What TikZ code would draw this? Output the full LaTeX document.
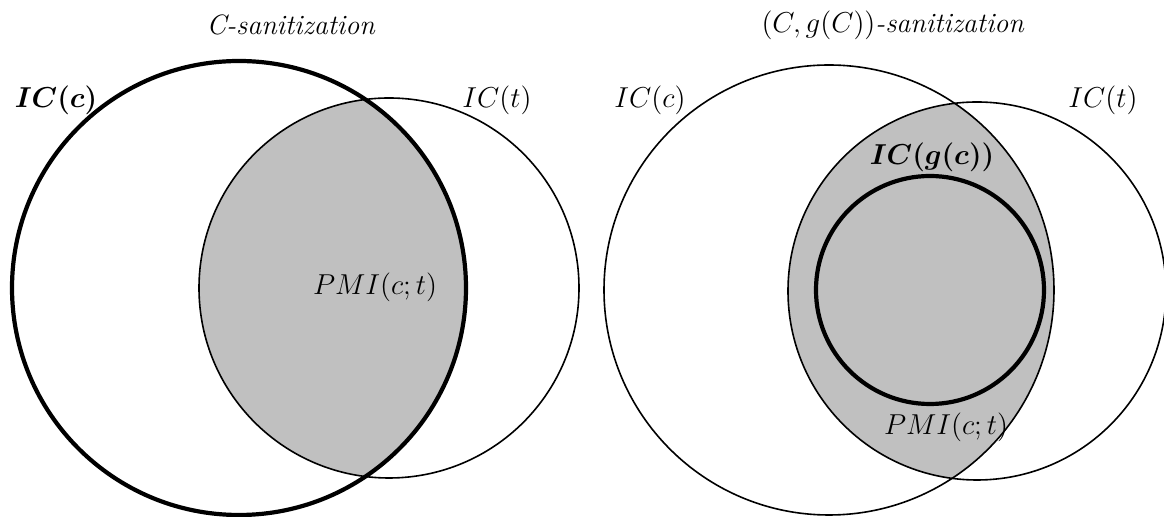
\documentclass[tikz,border=0pt]{standalone}
\usepackage{bm}
\definecolor{vgray}{RGB}{192,192,192}
\tikzset{
  thinc/.style={draw=black, line width=0.8pt},
  thickc/.style={draw=black, line width=2.1pt},
  lbl/.style={inner sep=0pt, font=\fontsize{14}{16}\selectfont}
}
\begin{document}
\begin{tikzpicture}[x=0.5pt,y=-0.5pt]
\useasboundingbox (0,0) rectangle (1164,517);
% ---- left panel ----
\coordinate (Lc) at (239,288);
\coordinate (Lt) at (389,288);
\begin{scope}
  \clip (Lc) circle [radius=113.5pt];
  \fill[fill=vgray] (Lt) circle [radius=95pt];
\end{scope}
\draw[thinc] (Lt) circle [radius=95pt];
\draw[thickc] (Lc) circle [radius=113.5pt];
\node[lbl] (ltitle) at (291,25) {\textit{C-sanitization}};
\node[lbl] (licc) at (56,100) {$\bm{IC(c)}$};
\node[lbl] (lict) at (497,100) {$IC(t)$};
\node[lbl] (lpmi) at (375,287) {$PMI(c;t)$};
% ---- right panel ----
\coordinate (Rc) at (829,290);
\coordinate (Rt) at (977,291);
\coordinate (Rg) at (930,290);
\begin{scope}
  \clip (Rc) circle [radius=112.5pt];
  \fill[fill=vgray] (Rt) circle [radius=94.5pt];
\end{scope}
\draw[thinc] (Rc) circle [radius=112.5pt];
\draw[thinc] (Rt) circle [radius=94.5pt];
\draw[thickc, fill=vgray] (Rg) circle [radius=57pt];
\node[lbl] (rtitle) at (893,25) {$(C,g(C))$\textit{-sanitization}};
\node[lbl] (ricc) at (650,100) {$IC(c)$};
\node[lbl] (rict) at (1103,100) {$IC(t)$};
\node[lbl] (ricg) at (932,157) {$\bm{IC(g(c))}$};
\node[lbl] (rpmi) at (946,427) {$PMI(c;t)$};
\end{tikzpicture}
\end{document}
